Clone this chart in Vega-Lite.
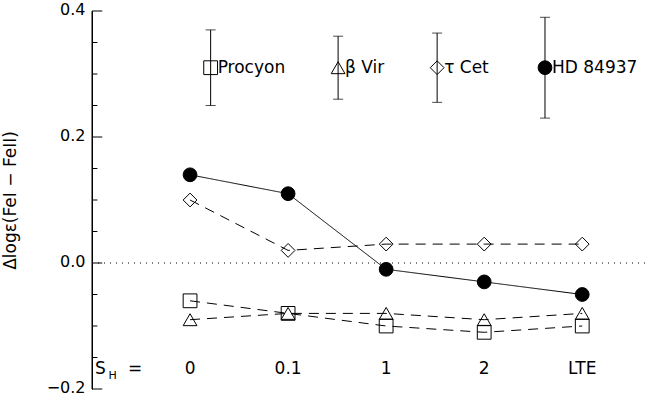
{
  "$schema": "https://vega.github.io/schema/vega-lite/v6.json",
  "autosize": "none",
  "width": 553,
  "height": 378,
  "padding": {"left": 92, "top": 11, "right": 4, "bottom": 6},
  "background": "white",
  "config": {"view": {"stroke": null}, "font": "DejaVu Sans"},
  "datasets": {
    "series": [
      {"star": "Procyon", "pos": 0, "val": -0.06},
      {"star": "Procyon", "pos": 1, "val": -0.08},
      {"star": "Procyon", "pos": 2, "val": -0.10},
      {"star": "Procyon", "pos": 3, "val": -0.11},
      {"star": "Procyon", "pos": 4, "val": -0.10},
      {"star": "β Vir", "pos": 0, "val": -0.09},
      {"star": "β Vir", "pos": 1, "val": -0.08},
      {"star": "β Vir", "pos": 2, "val": -0.08},
      {"star": "β Vir", "pos": 3, "val": -0.09},
      {"star": "β Vir", "pos": 4, "val": -0.08},
      {"star": "τ Cet", "pos": 0, "val": 0.10},
      {"star": "τ Cet", "pos": 1, "val": 0.02},
      {"star": "τ Cet", "pos": 2, "val": 0.03},
      {"star": "τ Cet", "pos": 3, "val": 0.03},
      {"star": "τ Cet", "pos": 4, "val": 0.03},
      {"star": "HD 84937", "pos": 0, "val": 0.14},
      {"star": "HD 84937", "pos": 1, "val": 0.11},
      {"star": "HD 84937", "pos": 2, "val": -0.01},
      {"star": "HD 84937", "pos": 3, "val": -0.03},
      {"star": "HD 84937", "pos": 4, "val": -0.05}
    ],
    "legend": [
      {"star": "Procyon", "pos": 0.21, "val": 0.31, "lo": 0.25, "hi": 0.37},
      {"star": "β Vir", "pos": 1.51, "val": 0.31, "lo": 0.26, "hi": 0.36},
      {"star": "τ Cet", "pos": 2.52, "val": 0.31, "lo": 0.255, "hi": 0.365},
      {"star": "HD 84937", "pos": 3.62, "val": 0.31, "lo": 0.23, "hi": 0.39}
    ],
    "majorticks": [
      {"v": -0.2}, {"v": 0}, {"v": 0.2}, {"v": 0.4}
    ],
    "minorticks": [
      {"v": -0.15}, {"v": -0.1}, {"v": -0.05}, {"v": 0.05}, {"v": 0.1}, {"v": 0.15}, {"v": 0.25}, {"v": 0.3}, {"v": 0.35}
    ],
    "xlabels": [
      {"pos": 0, "lab": "0"},
      {"pos": 1, "lab": "0.1"},
      {"pos": 2, "lab": "1"},
      {"pos": 3, "lab": "2"},
      {"pos": 4, "lab": "LTE"},
      {"pos": -0.915, "lab": "S"},
      {"pos": -0.56, "lab": "="}
    ],
    "sub": [
      {"pos": -0.79, "lab": "H"}
    ]
  },
  "layer": [
    {
      "data": {"name": "series"},
      "mark": {"type": "line", "color": "black", "strokeWidth": 1},
      "encoding": {
        "x": {"field": "pos", "type": "quantitative", "scale": {"domain": [-1, 4.64], "nice": false, "zero": false}, "axis": null},
        "y": {
          "field": "val", "type": "quantitative",
          "scale": {"domain": [-0.2, 0.4], "nice": false, "zero": false},
          "axis": {
            "orient": "left",
            "title": "Δlogε(FeI  −  FeII)",
            "titleFont": "DejaVu Sans", "titleFontSize": 17, "titleFontWeight": "normal", "titleColor": "black",
            "titleX": -73,
            "values": [-0.2, 0, 0.2, 0.4],
            "format": ".1f",
            "labelFont": "DejaVu Sans", "labelFontSize": 16, "labelColor": "black", "labelPadding": 7, "labelOffset": -2,
            "domain": true, "domainColor": "black", "domainWidth": 1,
            "ticks": false,
            "grid": false
          }
        },
        "detail": {"field": "star"},
        "strokeDash": {"field": "star", "type": "nominal", "scale": {"domain": ["Procyon", "β Vir", "τ Cet", "HD 84937"], "range": [[10, 7], [10, 7], [10, 7], [1, 0]]}, "legend": null}
      }
    },
    {
      "data": {"values": [{}]},
      "mark": {"type": "rule", "color": "black", "strokeWidth": 1},
      "encoding": {"x": {"datum": -1}}
    },
    {
      "data": {"name": "majorticks"},
      "mark": {"type": "rule", "color": "black", "strokeWidth": 1},
      "encoding": {
        "x": {"datum": -1},
        "x2": {"datum": -0.895},
        "y": {"field": "v", "type": "quantitative"}
      }
    },
    {
      "data": {"name": "minorticks"},
      "mark": {"type": "rule", "color": "black", "strokeWidth": 1},
      "encoding": {
        "x": {"datum": -1},
        "x2": {"datum": -0.945},
        "y": {"field": "v", "type": "quantitative"}
      }
    },
    {
      "data": {"values": [{}]},
      "mark": {"type": "rule", "color": "black", "strokeWidth": 1, "strokeDash": [1, 5]},
      "encoding": {"y": {"datum": 0}}
    },
    {
      "data": {"name": "series"},
      "mark": {"type": "point", "size": 190, "strokeWidth": 1, "opacity": 1, "stroke": "black"},
      "encoding": {
        "x": {"field": "pos", "type": "quantitative"},
        "y": {"field": "val", "type": "quantitative"},
        "shape": {"field": "star", "type": "nominal", "scale": {"domain": ["Procyon", "β Vir", "τ Cet", "HD 84937"], "range": ["square", "triangle-up", "diamond", "circle"]}, "legend": null},
        "fill": {"field": "star", "type": "nominal", "scale": {"domain": ["Procyon", "β Vir", "τ Cet", "HD 84937"], "range": ["transparent", "transparent", "transparent", "black"]}, "legend": null}
      }
    },
    {
      "data": {"name": "legend"},
      "mark": {"type": "rule", "color": "black", "strokeWidth": 1},
      "encoding": {
        "x": {"field": "pos", "type": "quantitative"},
        "y": {"field": "lo", "type": "quantitative"},
        "y2": {"field": "hi"}
      }
    },
    {
      "data": {"name": "legend"},
      "mark": {"type": "tick", "orient": "horizontal", "color": "black", "size": 10, "thickness": 1},
      "encoding": {
        "x": {"field": "pos", "type": "quantitative"},
        "y": {"field": "lo", "type": "quantitative"}
      }
    },
    {
      "data": {"name": "legend"},
      "mark": {"type": "tick", "orient": "horizontal", "color": "black", "size": 10, "thickness": 1},
      "encoding": {
        "x": {"field": "pos", "type": "quantitative"},
        "y": {"field": "hi", "type": "quantitative"}
      }
    },
    {
      "data": {"name": "legend"},
      "mark": {"type": "point", "size": 190, "strokeWidth": 1, "opacity": 1, "stroke": "black"},
      "encoding": {
        "x": {"field": "pos", "type": "quantitative"},
        "y": {"field": "val", "type": "quantitative"},
        "shape": {"field": "star", "type": "nominal", "legend": null},
        "fill": {"field": "star", "type": "nominal", "legend": null}
      }
    },
    {
      "data": {"name": "legend"},
      "mark": {"type": "text", "align": "left", "baseline": "middle", "dx": 7, "fontSize": 17, "font": "DejaVu Sans", "color": "black"},
      "encoding": {
        "x": {"field": "pos", "type": "quantitative"},
        "y": {"field": "val", "type": "quantitative"},
        "text": {"field": "star"}
      }
    },
    {
      "data": {"name": "xlabels"},
      "mark": {"type": "text", "align": "center", "baseline": "middle", "fontSize": 17, "font": "DejaVu Sans", "color": "black"},
      "encoding": {
        "x": {"field": "pos", "type": "quantitative"},
        "y": {"datum": -0.169},
        "text": {"field": "lab"}
      }
    },
    {
      "data": {"name": "sub"},
      "mark": {"type": "text", "align": "center", "baseline": "middle", "fontSize": 11, "font": "DejaVu Sans", "color": "black"},
      "encoding": {
        "x": {"field": "pos", "type": "quantitative"},
        "y": {"datum": -0.18},
        "text": {"field": "lab"}
      }
    }
  ]
}
